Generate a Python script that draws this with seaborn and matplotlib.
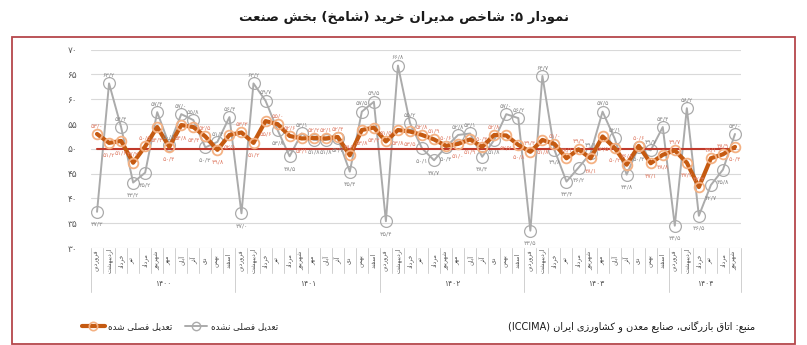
import re
import numpy as np
import pandas as pd
import matplotlib
matplotlib.use("Agg")
import matplotlib.pyplot as plt
import matplotlib.transforms as mtransforms
from matplotlib.lines import Line2D
from matplotlib.patches import Rectangle
import seaborn as sns

# ---------------- data ----------------
years = ["۱۴۰۰", "۱۴۰۱", "۱۴۰۲", "۱۴۰۳", "۱۴۰۴"]
months_per_year = [12, 12, 12, 12, 6]
month_names = ["فروردین", "اردیبهشت", "خرداد", "تیر", "مرداد", "شهریور",
               "مهر", "آبان", "آذر", "دی", "بهمن", "اسفند"]

# seasonally adjusted index
adjusted = [53.0, 51.2, 51.6, 47.2, 50.5, 54.4, 50.4, 54.8, 54.4, 52.5, 49.8, 52.8,
            53.3, 51.2, 55.6, 55.0, 52.6, 52.1, 52.2, 52.1, 52.4, 48.7, 53.8, 54.3,
            51.5, 53.8, 53.5, 52.8, 51.9, 50.6, 51.0, 51.9, 50.4, 52.8, 52.7, 50.8,
            49.4, 51.8, 51.0, 48.1, 49.9, 48.1, 52.5, 50.2, 46.8, 50.6, 47.1, 48.8,
            49.7, 47.2, 42.3, 48.1, 48.9, 50.4]
# not seasonally adjusted index
not_adjusted = [37.3, 63.2, 54.4, 43.2, 45.2, 57.4, 50.8, 57.0, 55.8, 50.3, 51.4, 56.4,
                37.0, 63.2, 59.7, 53.8, 48.5, 53.1, 51.8, 51.8, 52.2, 45.4, 57.5, 59.5,
                35.4, 66.8, 55.2, 50.1, 47.7, 50.4, 52.8, 53.1, 48.4, 51.8, 57.0, 56.2,
                33.5, 64.7, 49.8, 43.4, 46.2, 49.1, 57.5, 52.1, 44.8, 50.4, 49.7, 54.4,
                34.5, 58.2, 36.5, 42.7, 45.8, 53.0]
threshold = 50
y_ticks = [30, 35, 40, 45, 50, 55, 60, 65, 70]

title_text = "نمودار ۵: شاخص مدیران خرید (شامخ) بخش صنعت"
source_text = "منبع: اتاق بازرگانی، صنایع معدن و کشاورزی ایران (ICCIMA)"
label_adjusted = "تعدیل فصلی شده"
label_not_adjusted = "تعدیل فصلی نشده"

# ---------------- Persian text shaping ----------------
# (isolated, final, initial, medial) presentation forms
FORMS = {
    'ا': ('\uFE8D', '\uFE8E', None, None),
    'آ': ('\uFE81', '\uFE82', None, None),
    'ب': ('\uFE8F', '\uFE90', '\uFE91', '\uFE92'),
    'پ': ('\uFB56', '\uFB57', '\uFB58', '\uFB59'),
    'ت': ('\uFE95', '\uFE96', '\uFE97', '\uFE98'),
    'ث': ('\uFE99', '\uFE9A', '\uFE9B', '\uFE9C'),
    'ج': ('\uFE9D', '\uFE9E', '\uFE9F', '\uFEA0'),
    'چ': ('\uFB7A', '\uFB7B', '\uFB7C', '\uFB7D'),
    'ح': ('\uFEA1', '\uFEA2', '\uFEA3', '\uFEA4'),
    'خ': ('\uFEA5', '\uFEA6', '\uFEA7', '\uFEA8'),
    'د': ('\uFEA9', '\uFEAA', None, None),
    'ذ': ('\uFEAB', '\uFEAC', None, None),
    'ر': ('\uFEAD', '\uFEAE', None, None),
    'ز': ('\uFEAF', '\uFEB0', None, None),
    'ژ': ('\uFB8A', '\uFB8B', None, None),
    'س': ('\uFEB1', '\uFEB2', '\uFEB3', '\uFEB4'),
    'ش': ('\uFEB5', '\uFEB6', '\uFEB7', '\uFEB8'),
    'ص': ('\uFEB9', '\uFEBA', '\uFEBB', '\uFEBC'),
    'ض': ('\uFEBD', '\uFEBE', '\uFEBF', '\uFEC0'),
    'ط': ('\uFEC1', '\uFEC2', '\uFEC3', '\uFEC4'),
    'ظ': ('\uFEC5', '\uFEC6', '\uFEC7', '\uFEC8'),
    'ع': ('\uFEC9', '\uFECA', '\uFECB', '\uFECC'),
    'غ': ('\uFECD', '\uFECE', '\uFECF', '\uFED0'),
    'ف': ('\uFED1', '\uFED2', '\uFED3', '\uFED4'),
    'ق': ('\uFED5', '\uFED6', '\uFED7', '\uFED8'),
    'ک': ('\uFB8E', '\uFB8F', '\uFB90', '\uFB91'),
    'گ': ('\uFB92', '\uFB93', '\uFB94', '\uFB95'),
    'ل': ('\uFEDD', '\uFEDE', '\uFEDF', '\uFEE0'),
    'م': ('\uFEE1', '\uFEE2', '\uFEE3', '\uFEE4'),
    'ن': ('\uFEE5', '\uFEE6', '\uFEE7', '\uFEE8'),
    'ه': ('\uFEE9', '\uFEEA', '\uFEEB', '\uFEEC'),
    'و': ('\uFEED', '\uFEEE', None, None),
    'ی': ('\uFBFC', '\uFBFD', '\uFBFE', '\uFBFF'),
    'ئ': ('\uFE89', '\uFE8A', '\uFE8B', '\uFE8C'),
}


def shape_fa(text):
    """Join Persian letters and lay the string out right-to-left."""
    chars = list(text)
    out = []
    for i, c in enumerate(chars):
        if c not in FORMS:
            out.append(c)
            continue
        iso, fin, ini, med = FORMS[c]
        prev = chars[i - 1] if i > 0 else None
        nxt = chars[i + 1] if i + 1 < len(chars) else None
        join_prev = prev in FORMS and FORMS[prev][2] is not None
        join_next = ini is not None and nxt in FORMS
        if join_prev and join_next:
            out.append(med)
        elif join_prev:
            out.append(fin)
        elif join_next:
            out.append(ini)
        else:
            out.append(iso)
    visual = ''.join(out)[::-1]
    visual = re.sub(r'[A-Za-z0-9\u06F0-\u06F9]+', lambda m: m.group(0)[::-1], visual)
    return visual.translate(str.maketrans('()', ')('))


FA_DIGITS = str.maketrans("0123456789.", "۰۱۲۳۴۵۶۷۸۹/")


def fa_num(v, decimals=1):
    return f"{v:.{decimals}f}".translate(FA_DIGITS)


# ---------------- style ----------------
sns.set_theme(style="white")
plt.rcParams["font.family"] = ["DejaVu Sans"]

ORANGE = "#c55a11"
ORANGE_EDGE = "#f4b183"
GRAY = "#ababab"
RED = "#c0392b"
FRAME = "#b5474b"

n = len(adjusted)
idx = np.arange(n)
df = pd.DataFrame({"idx": idx, "adjusted": adjusted, "not_adjusted": not_adjusted})

W, H = 807, 345
fig = plt.figure(figsize=(W / 100, H / 100), dpi=100)
fig.patch.set_facecolor("white")
ax = fig.add_axes([91 / W, 1 - 248 / H, 650 / W, (248 - 49.7) / H])

sns.lineplot(data=df, x="idx", y="not_adjusted", ax=ax, color=GRAY, linewidth=1.4,
             marker="o", markersize=8.5, markerfacecolor="none",
             markeredgecolor=GRAY, markeredgewidth=0.9, zorder=2)
ax.plot(idx, [threshold] * n, color=RED, linewidth=1.5, zorder=3)
sns.lineplot(data=df, x="idx", y="adjusted", ax=ax, color=ORANGE, linewidth=3.0,
             marker="o", markersize=7, markerfacecolor="none",
             markeredgecolor=ORANGE_EDGE, markeredgewidth=1.3, zorder=4)

# value labels
for i in idx:
    g, o = not_adjusted[i], adjusted[i]
    g_off, o_off = (6, -9) if g >= o else (-9, 6)
    ax.annotate(fa_num(g), (i, g), xytext=(0, g_off), textcoords="offset points",
                ha="center", va="center", fontsize=4.6, color="#8a8a8a", zorder=5)
    ax.annotate(fa_num(o), (i, o), xytext=(0, o_off), textcoords="offset points",
                ha="center", va="center", fontsize=4.6, color="#e0806a", zorder=5)

ax.set_xlim(-0.5, n - 0.5)
ax.set_ylim(30, 70)
ax.set_yticks(y_ticks)
ax.set_yticklabels([fa_num(t, 0) for t in y_ticks], fontsize=6.5, color="#595959")
ax.tick_params(axis="y", length=0, pad=10)
ax.set_xticks([])
ax.set_xlabel("")
ax.set_ylabel("")
ax.yaxis.grid(True, color="#d9d9d9", linewidth=0.8)
ax.set_axisbelow(True)
for s in ax.spines.values():
    s.set_visible(False)

# two-level category axis: months and years
trans = mtransforms.blended_transform_factory(ax.transData, ax.transAxes)
month_bottom, year_bottom = -0.126, -0.222
pos = 0
for year, count in zip(years, months_per_year):
    for m in range(count):
        x = pos + m
        ax.text(x, -0.063, shape_fa(month_names[m]), transform=trans, rotation=90,
                ha="center", va="center", fontsize=4.4, color="#505050", clip_on=False)
        if m > 0:
            ax.plot([x - 0.5, x - 0.5], [0, month_bottom], transform=trans,
                    color="#d0d0d0", linewidth=0.7, clip_on=False)
    ax.plot([pos - 0.5, pos - 0.5], [0, year_bottom], transform=trans,
            color="#d0d0d0", linewidth=0.7, clip_on=False)
    ax.text(pos + (count - 1) / 2, -0.177, year, transform=trans, ha="center",
            va="center", fontsize=5.5, color="#505050", clip_on=False)
    pos += count
ax.plot([pos - 0.5, pos - 0.5], [0, year_bottom], transform=trans,
        color="#d0d0d0", linewidth=0.7, clip_on=False)

# title, legend and source
fig.text(404 / W, 1 - 18 / H, shape_fa(title_text), ha="center", va="center",
         fontsize=9.5, fontweight="bold", color="#1a1a1a")

handles = [
    Line2D([], [], color=ORANGE, linewidth=3, marker="o", markersize=6,
           markerfacecolor="none", markeredgecolor=ORANGE_EDGE, markeredgewidth=1.2),
    Line2D([], [], color=GRAY, linewidth=1.4, marker="o", markersize=6,
           markerfacecolor="none", markeredgecolor=GRAY),
]
fig.legend(handles, [shape_fa(label_adjusted), shape_fa(label_not_adjusted)],
           loc="center", bbox_to_anchor=(180 / W, 1 - 327 / H), ncol=2, frameon=False,
           fontsize=6.3, handlelength=2.6, columnspacing=1.4, handletextpad=0.4)

fig.text(755 / W, 1 - 327 / H, shape_fa(source_text), ha="right", va="center",
         fontsize=7, color="#1a1a1a")

fig.add_artist(Rectangle((12 / W, 1 - 344 / H), (795 - 12) / W, (344 - 37) / H,
                         transform=fig.transFigure, fill=False, edgecolor=FRAME,
                         linewidth=1.3))

fig.savefig("out.png", dpi=100, facecolor="white")
